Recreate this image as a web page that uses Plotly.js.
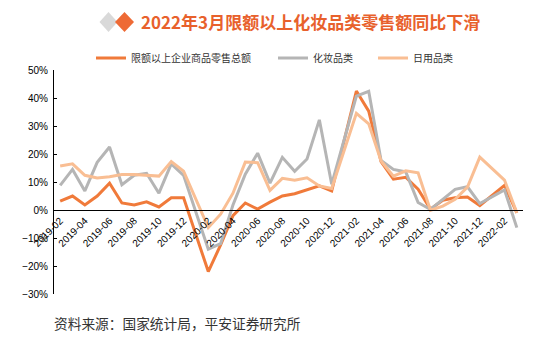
<!DOCTYPE html>
<html>
<head>
<meta charset="utf-8">
<script src="https://cdn.plot.ly/plotly-3.0.1.min.js"></script>
<style>
  html, body { margin: 0; padding: 0; background: #ffffff; }
  #chart { width: 539px; height: 351px; }
</style>
</head>
<body>
<div id="chart"></div>
<script>
// ---- data ----
const months = [
  '2019-02','2019-03','2019-04','2019-05','2019-06','2019-07','2019-08','2019-09','2019-10','2019-11','2019-12',
  '2020-01','2020-02','2020-03','2020-04','2020-05','2020-06','2020-07','2020-08','2020-09','2020-10','2020-11','2020-12',
  '2021-01','2021-02','2021-03','2021-04','2021-05','2021-06','2021-07','2021-08','2021-09','2021-10','2021-11','2021-12',
  '2022-01','2022-02','2022-03'
];
const tickLabels = [
  '2019-02','2019-04','2019-06','2019-08','2019-10','2019-12',
  '2020-02','2020-04','2020-06','2020-08','2020-10','2020-12',
  '2021-02','2021-04','2021-06','2021-08','2021-10','2021-12',
  '2022-02'
];
const totalRetail = [3.2, 5.0, 1.8, 5.0, 9.6, 2.5, 1.8, 2.9, 1.1, 4.4, 4.4,
  null, -22.0, -12.5, -2.0, 2.5, 0.3, 2.8, 5.0, 5.8, 7.2, 8.6, 6.8,
  null, 42.5, 35.3, 17.3, 11.0, 11.7, 7.4, 0.3, 3.5, 4.4, 4.6, 1.6,
  null, 8.8, -1.0];
const cosmetics = [8.8, 14.5, 6.8, 17.0, 22.5, 9.0, 12.4, 13.1, 6.0, 16.5, 12.4,
  null, -14.0, -12.0, 1.8, 12.8, 20.3, 9.6, 18.8, 13.8, 18.2, 32.2, 9.2,
  null, 40.7, 42.4, 17.7, 14.5, 13.6, 2.7, 0.2, 3.8, 7.4, 8.3, 2.3,
  null, 7.2, -6.3];
const dailyUse = [15.7, 16.5, 12.4, 11.4, 11.9, 12.7, 12.7, 12.4, 12.1, 17.3, 13.9,
  null, -6.3, -1.5, 6.0, 17.1, 16.9, 7.0, 11.3, 10.6, 11.5, 8.6, 7.7,
  null, 34.5, 30.8, 17.5, 12.1, 14.0, 13.3, -0.1, 1.4, 3.8, 8.2, 18.9,
  null, 10.7, -1.0];
const seriesNames = ['限额以上企业商品零售总额', '化妆品类', '日用品类'];
const boundaryTicks = [];
for (let k = 1; k < months.length; k += 2) boundaryTicks.push(k + 0.5);

// ---- layout helpers ----
const W = 539, H = 351;
const M = {l: 54, r: 16, t: 70, b: 57};
const PW = W - M.l - M.r, PH = H - M.t - M.b;
const px = x => (x - M.l) / PW;
const py = y => (H - M.b - y) / PH;

function diamond(cx, cy, hw, hh) {
  return 'M' + px(cx - hw) + ',' + py(cy) + ' L' + px(cx) + ',' + py(cy - hh) +
         ' L' + px(cx + hw) + ',' + py(cy) + ' L' + px(cx) + ',' + py(cy + hh) + ' Z';
}

const cjk = '"Noto Sans CJK SC", "Noto Sans", sans-serif';
const latin = '"Liberation Sans", Arial, sans-serif';

const traces = [
  {x: months, y: totalRetail, name: seriesNames[0], type: 'scatter', mode: 'lines', legend: 'legend',
   connectgaps: true, line: {color: '#F07A3A', width: 3}},
  {x: months, y: cosmetics, name: seriesNames[1], type: 'scatter', mode: 'lines', legend: 'legend2',
   connectgaps: true, line: {color: '#B5B5B5', width: 3}},
  {x: months, y: dailyUse, name: seriesNames[2], type: 'scatter', mode: 'lines', legend: 'legend3',
   connectgaps: true, line: {color: '#F9BE93', width: 3}}
];

function legendAt(xpx) {
  return {
    orientation: 'h', x: px(xpx), xanchor: 'left', y: py(58), yanchor: 'middle',
    font: {family: cjk, size: 10, color: '#333333'},
    bgcolor: 'rgba(0,0,0,0)', itemwidth: 30
  };
}

const layout = {
  width: W, height: H,
  margin: M,
  paper_bgcolor: '#ffffff', plot_bgcolor: '#ffffff',
  showlegend: true,
  title: {
    text: '<b>2022年3月限额以上化妆品类零售额同比下滑</b>',
    font: {family: cjk, size: 17, color: '#E8612C'},
    xref: 'container', yref: 'container',
    x: 141 / W, xanchor: 'left', y: 1 - 23 / H, yanchor: 'middle'
  },
  legend: legendAt(91),
  legend2: legendAt(273),
  legend3: legendAt(373),
  xaxis: {
    type: 'category', categoryorder: 'array', categoryarray: months,
    range: [-0.5, months.length - 0.5],
    tickmode: 'array', tickvals: tickLabels, ticktext: tickLabels,
    tickangle: -45, ticks: '',
    tickfont: {family: latin, size: 10, color: '#000000'},
    showline: true, linecolor: '#000000', linewidth: 1,
    showgrid: false, zeroline: false,
    anchor: 'free', position: 30 / 80
  },
  xaxis2: {
    overlaying: 'x', type: 'linear',
    range: [-0.5, months.length - 0.5],
    tickmode: 'array', tickvals: boundaryTicks,
    ticks: 'inside', ticklen: 3, tickcolor: '#000000', tickwidth: 1,
    showticklabels: false, showline: false, showgrid: false, zeroline: false,
    anchor: 'free', position: 30 / 80
  },
  yaxis: {
    range: [-30, 50], dtick: 10, tick0: 0, ticksuffix: '%',
    ticks: 'inside', ticklen: 3, tickcolor: '#000000',
    ticklabelstandoff: 3,
    tickfont: {family: latin, size: 10, color: '#000000'},
    showline: true, linecolor: '#000000', linewidth: 1,
    showgrid: false, zeroline: false
  },
  shapes: [
    {type: 'path', xref: 'paper', yref: 'paper', path: diamond(108.5, 22, 9, 10),
     fillcolor: '#D9D9D9', line: {width: 0}},
    {type: 'path', xref: 'paper', yref: 'paper', path: diamond(124.5, 22, 9.5, 10),
     fillcolor: '#EE6A35', line: {width: 0}}
  ],
  annotations: [
    {text: '资料来源：国家统计局，平安证券研究所', xref: 'paper', yref: 'paper',
     x: px(52), xanchor: 'left', y: py(323), yanchor: 'middle', showarrow: false,
     font: {family: cjk, size: 13.7, color: '#333333'}}
  ]
};

Plotly.newPlot('chart', traces, layout, {displayModeBar: false, staticPlot: true});
</script>
</body>
</html>
